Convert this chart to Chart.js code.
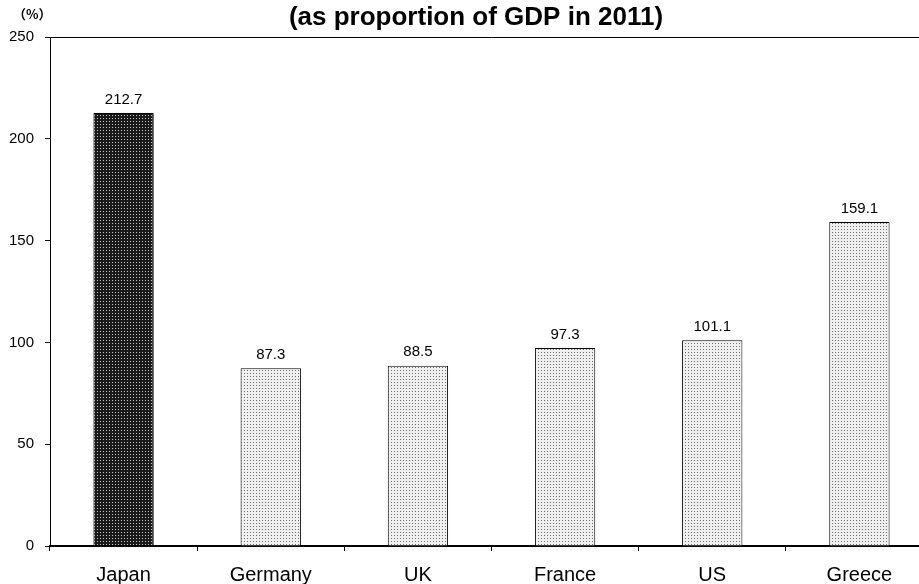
<!DOCTYPE html>
<html>
<head>
<meta charset="utf-8">
<script src="https://cdn.jsdelivr.net/npm/chart.js@4"></script>
<style>
  html, body { margin: 0; padding: 0; background: #fff; overflow: hidden; }
  #wrap { width: 940px; height: 584px; }
</style>
</head>
<body>
<div id="wrap"><canvas id="chartDebt"></canvas></div>
<script>
const countries = ['Japan', 'Germany', 'UK', 'France', 'US', 'Greece'];
const debtRatio = [212.7, 87.3, 88.5, 97.3, 101.1, 159.1];
const yTicks = [0, 50, 100, 150, 200, 250];

const font = '"Liberation Sans", Arial, sans-serif';

function dotPattern(bg, dot) {
  const c = document.createElement('canvas');
  c.width = 3; c.height = 3;
  const g = c.getContext('2d');
  g.fillStyle = bg;
  g.fillRect(0, 0, 3, 3);
  g.fillStyle = dot;
  g.fillRect(1, 1, 1, 1);
  return g.createPattern(c, 'repeat');
}

const ctx = document.getElementById('chartDebt');
const darkFill = dotPattern('#1a1a1a', '#c8c8c8');
const lightFill = dotPattern('#f0f0f0', '#707070');

const extras = {
  id: 'extras',
  afterDraw(chart) {
    const { ctx, chartArea } = chart;
    ctx.save();
    // top frame line
    ctx.strokeStyle = '#000';
    ctx.lineWidth = 1;
    ctx.beginPath();
    ctx.moveTo(chartArea.left, chartArea.top + 0.5);
    ctx.lineTo(chartArea.right, chartArea.top + 0.5);
    ctx.stroke();
    // title
    ctx.fillStyle = '#000';
    ctx.font = 'bold 26px ' + font;
    ctx.textAlign = 'center';
    ctx.textBaseline = 'middle';
    ctx.fillText('(as proportion of GDP in 2011)', 476, 18);
    // unit
    ctx.font = 'bold 13px "Noto Sans CJK JP", sans-serif';
    ctx.textAlign = 'left';
    ctx.fillText('（%）', chartArea.left - 37, chartArea.top - 23);
    // value labels
    ctx.font = '15px ' + font;
    ctx.textAlign = 'center';
    ctx.textBaseline = 'bottom';
    const meta = chart.getDatasetMeta(0);
    meta.data.forEach((bar, i) => {
      ctx.fillText(debtRatio[i].toFixed(1), bar.x, bar.y - 6);
    });
    ctx.restore();
  }
};

new Chart(ctx, {
  type: 'bar',
  data: {
    labels: countries,
    datasets: [{
      data: debtRatio,
      backgroundColor: countries.map((c, i) => i === 0 ? darkFill : lightFill),
      borderColor: '#000',
      borderWidth: 1,
      categoryPercentage: 1,
      barPercentage: 0.41
    }]
  },
  options: {
    responsive: true,
    maintainAspectRatio: false,
    animation: false,
    layout: { padding: { top: 37, right: 7, bottom: 0, left: 0 } },
    scales: {
      y: {
        min: 0,
        max: 250,
        afterBuildTicks(scale) { scale.ticks = yTicks.map(v => ({ value: v })); },
        afterFit(scale) { scale.width = 50; },
        grid: { display: true, drawOnChartArea: false, drawTicks: true, tickLength: 5, color: '#000' },
        border: { display: true, color: '#000', width: 1 },
        ticks: { color: '#000', padding: 11, font: { family: font, size: 15 } }
      },
      x: {
        afterFit(scale) { scale.height = 38; },
        grid: { display: true, offset: true, drawOnChartArea: false, drawTicks: true, tickLength: 5, color: '#000' },
        border: { display: true, color: '#000', width: 2 },
        ticks: { color: '#000', padding: 12, font: { family: font, size: 20 } }
      }
    },
    plugins: { legend: { display: false }, tooltip: { enabled: false } }
  },
  plugins: [extras]
});
</script>
</body>
</html>
